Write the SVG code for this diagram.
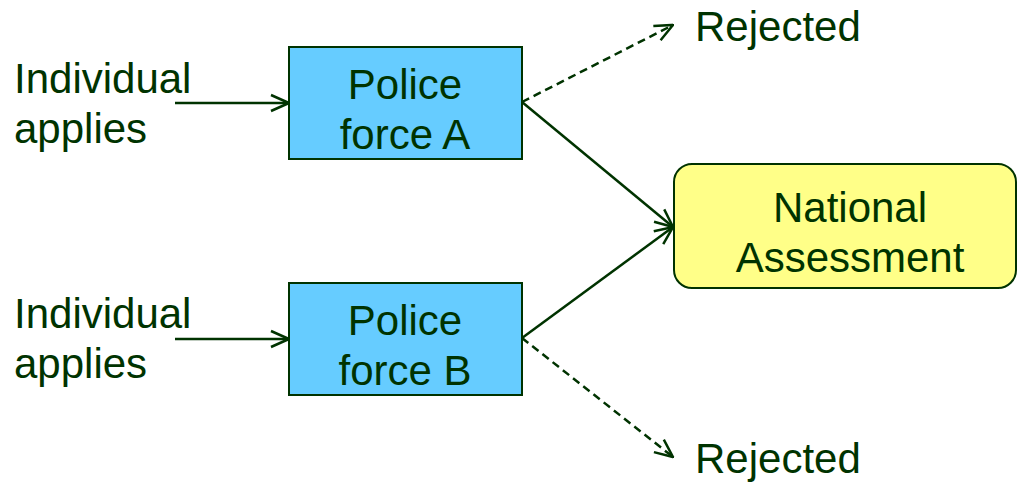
<svg xmlns="http://www.w3.org/2000/svg" width="1017" height="483" viewBox="0 0 1017 483">
<defs>
<style>
text{font-family:"Liberation Sans",Arial,sans-serif;font-size:42px;fill:#003300}
.mid{text-anchor:middle}
.box{fill:#66CCFF;stroke:#003300;stroke-width:2}
.nat{fill:#FFFF88;stroke:#003300;stroke-width:2}
.c{stroke:#003300;stroke-width:2.5;fill:none;marker-end:url(#ah)}
.d{stroke-dasharray:8 5}
</style>
<marker id="ah" viewBox="0 0 20 20" refX="19" refY="10" markerWidth="20" markerHeight="20" markerUnits="userSpaceOnUse" orient="auto">
<path d="M1,2 L19,10 L1,18" fill="none" stroke="#003300" stroke-width="2.5"/>
</marker>
</defs>
<rect width="1017" height="483" fill="#fff"/>
<g id="connectors">
<line class="c" x1="175" y1="103" x2="289" y2="103"/>
<line class="c" x1="175" y1="339" x2="289" y2="339"/>
<line class="c d" x1="522" y1="102" x2="673" y2="25"/>
<line class="c" x1="522" y1="102" x2="673" y2="227"/>
<line class="c" x1="522" y1="338" x2="673" y2="227"/>
<line class="c d" x1="522" y1="338" x2="673" y2="457"/>
</g>
<g id="label-individual-a">
<text x="14" y="93">Individual</text>
<text x="14" y="143">applies</text>
</g>
<g id="label-individual-b">
<text x="14" y="328">Individual</text>
<text x="14" y="378">applies</text>
</g>
<g id="police-a">
<rect class="box" x="289" y="47" width="233" height="112"/>
<text class="mid" x="405" y="99">Police</text>
<text class="mid" x="405" y="149">force A</text>
</g>
<g id="police-b">
<rect class="box" x="289" y="283" width="233" height="112"/>
<text class="mid" x="405" y="335">Police</text>
<text class="mid" x="405" y="385">force B</text>
</g>
<g id="national-assessment">
<rect class="nat" x="674" y="164" width="342" height="124" rx="18" ry="18"/>
<text class="mid" x="850" y="222">National</text>
<text class="mid" x="850" y="272">Assessment</text>
</g>
<g id="rejected-a">
<text x="695" y="41">Rejected</text>
</g>
<g id="rejected-b">
<text x="695" y="473">Rejected</text>
</g>
</svg>
